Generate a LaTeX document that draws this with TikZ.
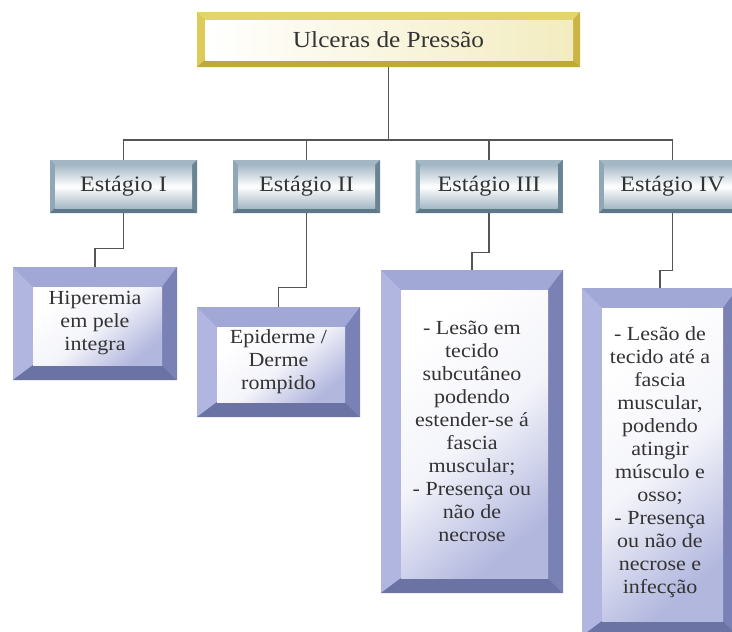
\documentclass[tikz,border=0pt]{standalone}
\usepackage{fontspec}
\setmainfont{Liberation Serif}[FakeStretch=1.1]

\definecolor{txt}{HTML}{333333}
\definecolor{wire}{HTML}{555555}
\definecolor{gold}{HTML}{D4C24A}
\definecolor{goldT}{HTML}{E3D56E}
\definecolor{goldL}{HTML}{DCCB58}
\definecolor{goldB}{HTML}{BDA93A}
\definecolor{goldR}{HTML}{C8B544}
\definecolor{goldI}{HTML}{F3ECC0}
\definecolor{steel}{HTML}{7E97A8}
\definecolor{steelT}{HTML}{A3B6C3}
\definecolor{steelL}{HTML}{90A7B6}
\definecolor{steelB}{HTML}{5F7888}
\definecolor{steelR}{HTML}{6B8494}
\definecolor{steelI}{HTML}{A6B9C6}
\definecolor{lav}{HTML}{8F97C8}
\definecolor{lavT}{HTML}{A1A8D5}
\definecolor{lavL}{HTML}{B0B6DF}
\definecolor{lavB}{HTML}{6B73A5}
\definecolor{lavR}{HTML}{7A82B5}
\definecolor{lavI}{HTML}{B2B7DE}

\newcommand\ppb{path picture bounding box}
% bevelled frame: #1 top/left width, #2 bottom/right width, #3-#6 colours, #7 inner shading
\newcommand\bevel[7]{%
  \fill[#3] (\ppb.north west) -- (\ppb.north east) -- ([shift={(-#2,#1)}]\ppb.north east) -- ([shift={(#1,#1)}]\ppb.north west) -- cycle;
  \fill[#4] (\ppb.north west) -- ([shift={(#1,#1)}]\ppb.north west) -- ([shift={(#1,-#2)}]\ppb.south west) -- (\ppb.south west) -- cycle;
  \fill[#5] (\ppb.south west) -- ([shift={(#1,-#2)}]\ppb.south west) -- ([shift={(-#2,-#2)}]\ppb.south east) -- (\ppb.south east) -- cycle;
  \fill[#6] (\ppb.north east) -- (\ppb.south east) -- ([shift={(-#2,-#2)}]\ppb.south east) -- ([shift={(-#2,#1)}]\ppb.north east) -- cycle;
  \shade[#7] ([shift={(#1,#1)}]\ppb.north west) rectangle ([shift={(-#2,-#2)}]\ppb.south east);
}

\begin{document}
\begin{tikzpicture}[x=1pt,y=-1pt,
  headbox/.style={fill=gold, inner sep=0pt, text=txt, minimum width=383pt, minimum height=55pt,
    font=\fontsize{23}{26}\selectfont,
    path picture={\bevel{8}{7}{goldT}{goldL}{goldB}{goldR}{left color=white,right color=goldI}}},
  stagebox/.style={fill=steel, inner sep=0pt, text=txt, minimum width=147pt, minimum height=53pt,
    font=\fontsize{22}{26}\selectfont,
    path picture={\bevel{5}{5}{steelT}{steelL}{steelB}{steelR}{top color=steelI,bottom color=steelI,middle color=white}}},
  notebox/.style={fill=lav, inner sep=0pt, text=txt, align=center,
    font=\fontsize{20}{23}\selectfont,
    path picture={\bevel{20}{15}{lavT}{lavL}{lavB}{lavR}{top color=white,bottom color=lavI,middle color=white!85!lavI,shading angle=40}}},
  wire/.style={draw=wire, line width=1.3pt}]

  \fill[white] (0,0) rectangle (732,632);
  \useasboundingbox (0,0) rectangle (732,632);

  \node (U)  [headbox] at (388.5,39.5) {Ulceras de Pressão};

  \node (E1) [stagebox] at (123.5,186.5) {Estágio I};
  \node (E2) [stagebox] at (306.5,186.5) {Estágio II};
  \node (E3) [stagebox] at (489,186.5)   {Estágio III};
  \node (E4) [stagebox] at (672.5,186.5) {Estágio IV};

  \node (D1) [notebox, minimum width=164pt, minimum height=113pt] at (95,323.5)
    {Hiperemia\\ em pele\\ integra};
  \node (D2) [notebox, minimum width=163pt, minimum height=110pt] at (278.5,362)
    {Epiderme /\\ Derme\\ rompido};
  \node (D3) [notebox, minimum width=182pt, minimum height=323pt] at (472,431.5)
    {- Lesão em\\ tecido\\ subcutâneo\\ podendo\\ estender-se á\\ fascia\\ muscular;\\ - Presença ou\\ não de\\ necrose};
  \node (D4) [notebox, minimum width=156pt, minimum height=348pt] at (660,462)
    {- Lesão de\\ tecido até a\\ fascia\\ muscular,\\ podendo\\ atingir\\ músculo e\\ osso;\\ - Presença\\ ou não de\\ necrose e\\ infecção};

  \coordinate (bus) at (388.5,140);
  \path[wire] (U.south) -- (bus)
              (E1.north) |- (bus) -| (E4.north)
              (E2.north) -- (E2.north |- bus)
              (E3.north) -- (E3.north |- bus);
  \path[wire] (E1.south) -- ++(0,35) -| (D1.north)
              (E2.south) -- ++(0,74) -| (D2.north)
              (E3.south) -- ++(0,39) -| (D3.north)
              (E4.south) -- ++(0,57) -| (D4.north);
\end{tikzpicture}
\end{document}
